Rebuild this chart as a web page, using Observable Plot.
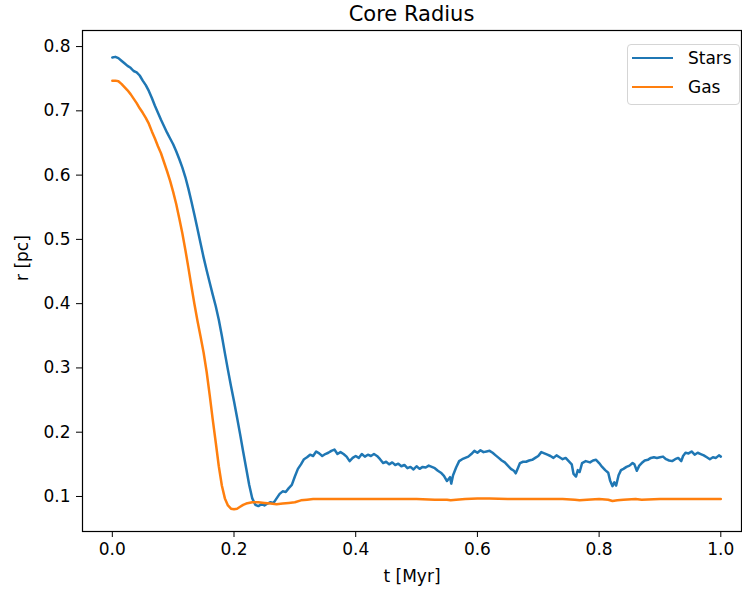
<!DOCTYPE html>
<html>
<head>
<meta charset="utf-8">
<script src="https://cdn.jsdelivr.net/npm/d3@7"></script>
<script src="https://cdn.jsdelivr.net/npm/@observablehq/plot@0.6"></script>
<style>
  body { margin: 0; background: #fff; font-family: "DejaVu Sans", sans-serif; }
  #wrap { position: relative; width: 742px; height: 591px; }
  #title { position: absolute; left: 82px; width: 659px; top: 1px; text-align: center; font-size: 21px; color: #000; line-height: 26px; }
  #legend { position: absolute; left: 627px; top: 44px; width: 113px; height: 61px; border: 1px solid #d5d5d5; border-radius: 4px; background: rgba(255,255,255,0.8); box-sizing: border-box; }
  .li { position: absolute; left: 4px; height: 22px; display: flex; align-items: center; font-size: 17px; color: #000; }
  .sw { width: 41px; height: 0; border-top: 2.5px solid; margin-right: 15px; }
</style>
</head>
<body>
<div id="wrap">
  <div id="title"></div>
  <div id="chart"></div>
  <div id="legend"></div>
</div>
<script>
const title = "Core Radius";
const xLabel = "t [Myr]";
const yLabel = "r [pc]";
const seriesNames = ["Stars", "Gas"];
const seriesColors = ["#1f77b4", "#ff7f0e"];
const xTicks = [0.0, 0.2, 0.4, 0.6, 0.8, 1.0];
const yTicks = [0.1, 0.2, 0.3, 0.4, 0.5, 0.6, 0.7, 0.8];

const starsT = [0.000,0.005,0.010,0.015,0.020,0.025,0.030,0.035,0.040,0.045,0.050,0.055,0.060,0.065,0.070,0.075,0.080,0.085,0.090,0.095,0.100,0.105,0.110,0.115,0.120,0.125,0.130,0.135,0.140,0.145,0.150,0.155,0.160,0.165,0.170,0.175,0.180,0.185,0.190,0.195,0.200,0.205,0.210,0.215,0.220,0.225,0.230,0.235,0.240,0.245,0.250,0.255,0.260,0.265,0.270,0.275,0.280,0.285,0.290,0.295,0.300,0.305,0.310,0.315,0.320,0.325,0.330,0.335,0.340,0.345,0.350,0.355,0.360,0.365,0.370,0.375,0.380,0.385,0.390,0.395,0.400,0.405,0.410,0.415,0.420,0.425,0.430,0.435,0.440,0.445,0.450,0.455,0.460,0.465,0.470,0.475,0.480,0.485,0.490,0.495,0.500,0.505,0.510,0.515,0.520,0.525,0.530,0.535,0.540,0.545,0.550,0.555,0.557,0.560,0.565,0.570,0.575,0.580,0.585,0.590,0.595,0.600,0.605,0.610,0.615,0.620,0.625,0.630,0.635,0.640,0.645,0.650,0.655,0.660,0.663,0.667,0.670,0.675,0.680,0.685,0.690,0.695,0.700,0.705,0.710,0.715,0.720,0.725,0.730,0.735,0.740,0.745,0.750,0.755,0.758,0.762,0.765,0.768,0.772,0.778,0.785,0.790,0.795,0.800,0.805,0.810,0.815,0.818,0.822,0.825,0.828,0.832,0.836,0.840,0.845,0.850,0.855,0.858,0.862,0.866,0.870,0.875,0.880,0.885,0.890,0.895,0.900,0.905,0.910,0.915,0.920,0.925,0.930,0.935,0.938,0.942,0.947,0.952,0.957,0.962,0.967,0.972,0.977,0.982,0.987,0.992,0.997,1.000];
const starsR = [0.783,0.784,0.782,0.778,0.774,0.770,0.767,0.762,0.760,0.755,0.747,0.740,0.731,0.720,0.708,0.697,0.686,0.676,0.666,0.657,0.648,0.637,0.625,0.612,0.597,0.579,0.559,0.538,0.516,0.494,0.472,0.452,0.433,0.414,0.396,0.375,0.350,0.323,0.297,0.272,0.248,0.223,0.197,0.170,0.144,0.118,0.097,0.087,0.085,0.088,0.086,0.089,0.091,0.090,0.097,0.104,0.108,0.107,0.113,0.118,0.131,0.143,0.150,0.158,0.161,0.165,0.163,0.170,0.167,0.163,0.166,0.168,0.171,0.173,0.166,0.169,0.166,0.162,0.155,0.160,0.163,0.160,0.166,0.162,0.165,0.163,0.166,0.163,0.158,0.152,0.154,0.150,0.153,0.149,0.151,0.147,0.149,0.144,0.146,0.142,0.147,0.143,0.146,0.145,0.148,0.146,0.144,0.140,0.137,0.132,0.124,0.130,0.120,0.133,0.145,0.155,0.158,0.160,0.162,0.166,0.171,0.168,0.172,0.169,0.170,0.171,0.168,0.164,0.160,0.156,0.153,0.148,0.143,0.140,0.136,0.145,0.152,0.154,0.154,0.156,0.157,0.160,0.163,0.169,0.167,0.165,0.163,0.160,0.164,0.161,0.158,0.160,0.155,0.150,0.135,0.131,0.141,0.138,0.152,0.155,0.153,0.156,0.157,0.152,0.146,0.141,0.137,0.125,0.116,0.122,0.117,0.133,0.141,0.143,0.146,0.148,0.152,0.150,0.140,0.148,0.152,0.156,0.157,0.160,0.161,0.160,0.161,0.162,0.158,0.156,0.155,0.158,0.160,0.155,0.163,0.168,0.167,0.170,0.165,0.168,0.166,0.164,0.161,0.158,0.161,0.160,0.164,0.162];

const gasT = [0.000,0.005,0.010,0.015,0.020,0.025,0.030,0.035,0.040,0.045,0.050,0.055,0.060,0.065,0.070,0.075,0.080,0.085,0.090,0.095,0.100,0.105,0.110,0.115,0.120,0.125,0.130,0.135,0.140,0.145,0.150,0.155,0.160,0.165,0.170,0.175,0.180,0.185,0.190,0.195,0.200,0.205,0.210,0.215,0.220,0.230,0.240,0.250,0.260,0.270,0.280,0.290,0.300,0.310,0.320,0.330,0.350,0.400,0.450,0.500,0.530,0.550,0.556,0.565,0.580,0.600,0.620,0.650,0.700,0.740,0.760,0.768,0.780,0.800,0.815,0.822,0.830,0.840,0.860,0.870,0.900,0.950,1.000];
const gasR = [0.747,0.747,0.746,0.742,0.737,0.732,0.726,0.719,0.712,0.704,0.697,0.689,0.680,0.668,0.657,0.645,0.634,0.620,0.606,0.591,0.574,0.555,0.533,0.510,0.484,0.456,0.427,0.399,0.373,0.349,0.324,0.294,0.258,0.220,0.184,0.147,0.117,0.097,0.086,0.081,0.080,0.081,0.084,0.087,0.089,0.091,0.091,0.090,0.089,0.088,0.089,0.090,0.091,0.094,0.095,0.096,0.096,0.096,0.096,0.096,0.095,0.095,0.094,0.095,0.096,0.097,0.097,0.096,0.096,0.096,0.095,0.094,0.095,0.096,0.095,0.093,0.094,0.095,0.096,0.095,0.096,0.096,0.096];

const data = [
  ...starsT.map((t, i) => ({t, r: starsR[i], s: seriesNames[0]})),
  ...gasT.map((t, i) => ({t, r: gasR[i], s: seriesNames[1]}))
];

document.getElementById("title").textContent = title;

const chart = Plot.plot({
  width: 742,
  height: 591,
  marginLeft: 82,
  marginRight: 1,
  marginTop: 30,
  marginBottom: 60,
  style: { fontFamily: "DejaVu Sans, sans-serif", fontSize: "17px", color: "#000", background: "#fff" },
  x: { domain: [-0.049, 1.034] },
  y: { domain: [0.0455, 0.825] },
  color: { domain: seriesNames, range: seriesColors },
  marks: [
    Plot.axisX({ ticks: xTicks, tickFormat: d => d.toFixed(1), tickSize: 6, tickPadding: 5, fontSize: 17, label: null }),
    Plot.axisY({ ticks: yTicks, tickFormat: d => d.toFixed(1), tickSize: 6, tickPadding: 6, fontSize: 17, label: null }),
    Plot.lineY(data, { x: "t", y: "r", stroke: "s", z: "s", strokeWidth: 2.5 }),
    Plot.frame({ stroke: "#000", strokeWidth: 1.2 }),
    Plot.text([xLabel], { frameAnchor: "bottom", dy: 50, text: d => d, fontSize: 17 }),
    Plot.text([yLabel], { frameAnchor: "left", dx: -60, rotate: -90, text: d => d, fontSize: 17 })
  ]
});
document.getElementById("chart").appendChild(chart);

const legend = document.getElementById("legend");
seriesNames.forEach((name, i) => {
  const row = document.createElement("div");
  row.className = "li";
  row.style.top = (2 + i * 29) + "px";
  const sw = document.createElement("div");
  sw.className = "sw";
  sw.style.borderColor = seriesColors[i];
  row.appendChild(sw);
  const lab = document.createElement("span");
  lab.textContent = name;
  row.appendChild(lab);
  legend.appendChild(row);
});
</script>
</body>
</html>
